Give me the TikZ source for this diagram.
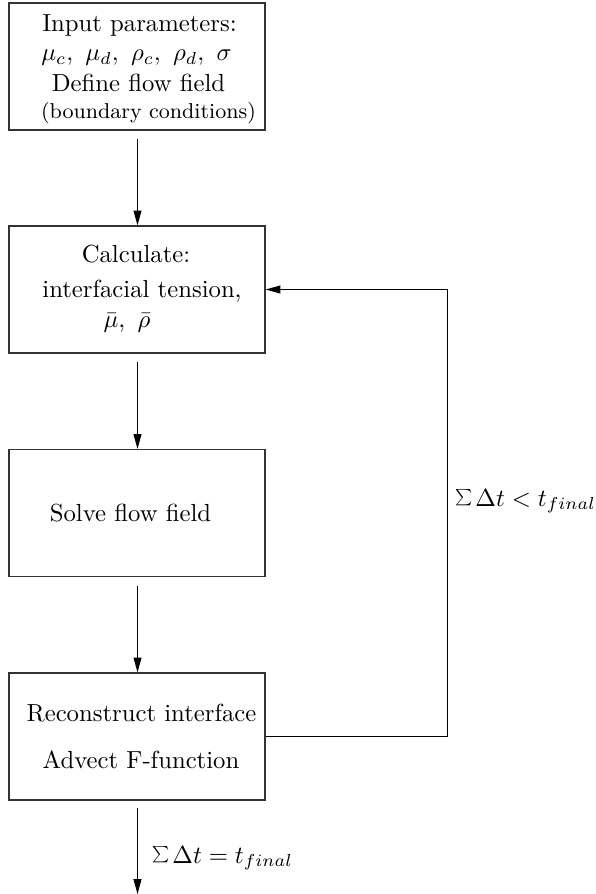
\documentclass[tikz,border=0pt]{standalone}
\usepackage{graphicx}
\usetikzlibrary{arrows.meta}
\newcommand{\smallsum}{\raisebox{1.6pt}{\scalebox{0.66}{$\sum$}}\mkern2mu}
\begin{document}
\begin{tikzpicture}
\useasboundingbox (0pt,0pt) rectangle (595pt,-894pt);
\begin{scope}[transform canvas={scale=2.47},x=0.40486pt,y=-0.40486pt,
  box/.style={draw=black!80,line width=0.5pt,minimum width=103.6pt,minimum height=51.4pt,inner sep=0pt},
  txt/.style={inner sep=0pt,font=\normalsize,anchor=base},
  flow/.style={line width=0.42pt,-{Triangle[length=6pt,width=3.2pt]}}]
\node[box] (b1) at (137,66.5) {};
\node[box] (b2) at (137,289.5) {};
\node[box] (b3) at (137,513) {};
\node[box] (b4) at (137,736.5) {};
% box 1 text
\node[txt] (t1a) at (139.5,31.5) {Input parameters:};
\node[txt] (t1b) at (136.5,60.5) {$\mu_c,\ \mu_d,\ \rho_c,\ \rho_d,\ \sigma$};
\node[txt] (t1c) at (138.5,91.5) {Define flow field};
\node[txt,font=\fontsize{8.7}{10.5}\selectfont] (t1d) at (148.5,118.5) {(boundary conditions)};
% box 2 text
\node[txt] (t2a) at (136,262.5) {Calculate:};
\node[txt] (t2b) at (142,297.5) {interfacial tension,};
\node[txt] (t2c) at (127,327) {$\bar{\mu},\ \bar{\rho}$};
% box 3 text
\node[txt] (t3) at (130.5,521.5) {Solve flow field};
% box 4 text
\node[txt] (t4a) at (141.5,721.5) {Reconstruct interface};
\node[txt] (t4b) at (141,768) {Advect F-function};
% arrows
\coordinate (a1) at (137.5,139);
\coordinate (a2) at (137.5,362);
\coordinate (a3) at (137.5,586);
\coordinate (a4) at (137.5,808);
\coordinate (end) at (137.5,894);
\coordinate (loop) at (447.5,0);
\draw[flow] (a1) -- (a1 |- b2.north);
\draw[flow] (a2) -- (a2 |- b3.north);
\draw[flow] (a3) -- (a3 |- b4.north);
\draw[flow] (a4) -- (end);
\draw[flow] (b4.east) -| (loop |- b2.east) -- (b2.east);
\node[txt,anchor=base west] (lbl1) at (455,506) {$\smallsum\Delta t<t_{final}$};
\node[txt,anchor=base west] (lbl2) at (152,863) {$\smallsum\Delta t=t_{final}$};
\end{scope}
\end{tikzpicture}
\end{document}
